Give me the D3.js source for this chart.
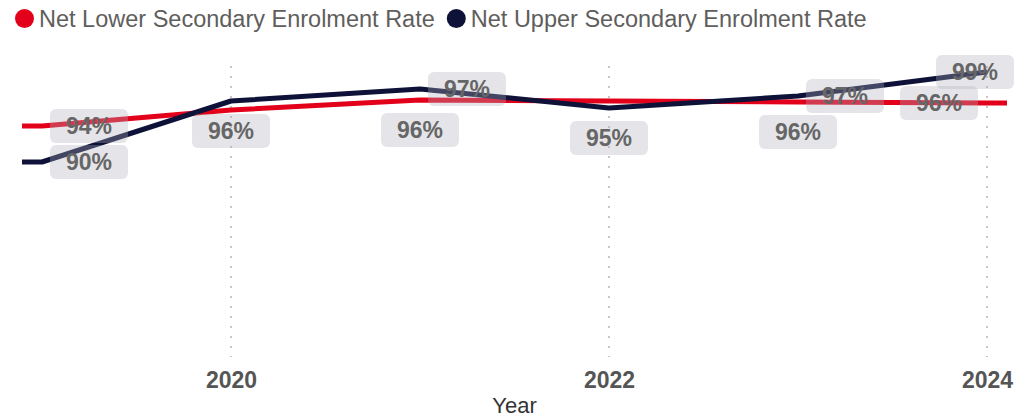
<!DOCTYPE html>
<html>
<head>
<meta charset="utf-8">
<script src="https://cdn.jsdelivr.net/npm/d3@7"></script>
<style>
  body { margin: 0; background: #fff; }
  svg { display: block; font-family: "Liberation Sans", Arial, sans-serif; }
</style>
</head>
<body>
<div id="chart"></div>
<script>
// years incl. the partly visible ones at the clipped edges
var years = [2018, 2019, 2020, 2021, 2022, 2023, 2024, 2025];
var lowerRate = [93.5, 93.6, 95.2, 96.2, 96.1, 96.0, 95.9, 95.8];
var upperRate = [90.0, 90.0, 96.1, 97.3, 95.4, 96.6, 99.0, null];
var seriesNames = ["Net Lower Secondary Enrolment Rate", "Net Upper Secondary Enrolment Rate"];
var seriesColors = ["#e3001b", "#0e1238"];
var xTicks = [2020, 2022, 2024];
// which data labels are shown and where they sit
var labelSeries = [0, 1, 1, 0, 1, 1, 0, 1, 0, 1];
var labelYears  = [2019, 2019, 2020, 2021, 2021, 2022, 2023, 2023, 2024, 2024];
var labelPos    = ["right", "right", "below", "below", "right", "below", "below", "right", "left", "right"];

var width = 1015, height = 417;
var plot = {left: 22, right: 1007, top: 62, bottom: 350};

var svg = d3.select("#chart").append("svg")
    .attr("width", width)
    .attr("height", height);

var x = d3.scaleLinear()
    .domain([2019, 2024])
    .range([42, 987]);

var y = d3.scaleLinear()
    .domain([71.2, 100])
    .range([plot.bottom, plot.top]);

var series = [lowerRate, upperRate].map(function(vals, i){
  return {
    name: seriesNames[i],
    color: seriesColors[i],
    points: years.map(function(yr, j){ return {year: yr, value: vals[j]}; })
  };
});

svg.append("clipPath").attr("id", "plotClip")
  .append("rect")
    .attr("x", plot.left)
    .attr("y", 0)
    .attr("width", plot.right - plot.left)
    .attr("height", height);

// dotted vertical gridlines
svg.append("g").selectAll("line")
    .data(xTicks)
    .enter()
    .append("line")
    .attr("x1", function(d){ return x(d); })
    .attr("x2", function(d){ return x(d); })
    .attr("y1", 66)
    .attr("y2", 357)
    .attr("stroke", "#c6c6c6")
    .attr("stroke-width", 2)
    .attr("stroke-dasharray", "2 8");

// x axis
var xAxis = d3.axisBottom(x)
    .tickValues(xTicks)
    .tickSize(0)
    .tickFormat(d3.format("d"));

var gx = svg.append("g")
    .attr("transform", "translate(0," + 363 + ")")
    .call(xAxis);
gx.select(".domain").remove();
gx.selectAll("text")
    .attr("font-family", "'Liberation Sans', Arial, sans-serif")
    .attr("font-size", 23)
    .attr("font-weight", "bold")
    .attr("fill", "#555555")
    .attr("dy", "0.95em");

svg.append("text")
    .attr("x", (plot.left + plot.right) / 2)
    .attr("y", 413)
    .attr("text-anchor", "middle")
    .attr("font-size", 22)
    .attr("fill", "#333333")
    .text("Year");

// lines
var line = d3.line()
    .defined(function(d){ return d.value != null; })
    .x(function(d){ return x(d.year); })
    .y(function(d){ return y(d.value); });

svg.append("g")
    .attr("clip-path", "url(#plotClip)")
    .selectAll("path")
    .data(series)
    .enter()
    .append("path")
    .attr("d", function(d){ return line(d.points); })
    .attr("fill", "none")
    .attr("stroke", function(d){ return d.color; })
    .attr("stroke-width", 5)
    .attr("stroke-linejoin", "round");

// data labels
var boxW = 78, boxH = 34;
var labels = labelSeries.map(function(s, i){
  var vals = s === 0 ? lowerRate : upperRate;
  var v = vals[years.indexOf(labelYears[i])];
  var px = x(labelYears[i]), py = y(v);
  var bx, by;
  if (labelPos[i] === "right"){
    bx = Math.min(px + 8, width - 1 - boxW);
    by = py - boxH / 2;
  } else if (labelPos[i] === "left"){
    bx = px - 9 - boxW;
    by = py - boxH / 2;
  } else {
    bx = px - boxW / 2;
    by = py + 13;
  }
  return {x: bx, y: by, text: Math.round(v) + "%"};
});

var lab = svg.append("g").selectAll("g")
    .data(labels)
    .enter()
    .append("g");

lab.append("rect")
    .attr("x", function(d){ return d.x; })
    .attr("y", function(d){ return d.y; })
    .attr("width", boxW)
    .attr("height", boxH)
    .attr("rx", 6)
    .attr("fill", "rgb(175,175,188)")
    .attr("fill-opacity", 0.33);

lab.append("text")
    .attr("x", function(d){ return d.x + boxW / 2; })
    .attr("y", function(d){ return d.y + boxH / 2; })
    .attr("dy", "0.36em")
    .attr("text-anchor", "middle")
    .attr("font-size", 23)
    .attr("font-weight", "bold")
    .attr("fill", "#666666")
    .text(function(d){ return d.text; });

// legend
var legend = svg.append("g");
var lx = 15;
series.forEach(function(s){
  legend.append("circle")
    .attr("cx", lx + 9.5)
    .attr("cy", 18.5)
    .attr("r", 9.5)
    .attr("fill", s.color);
  var t = legend.append("text")
    .attr("x", lx + 24)
    .attr("y", 26.5)
    .attr("font-size", 23.5)
    .attr("fill", "#605e5c")
    .text(s.name);
  lx = lx + 24 + t.node().getComputedTextLength() + 12;
});
</script>
</body>
</html>
